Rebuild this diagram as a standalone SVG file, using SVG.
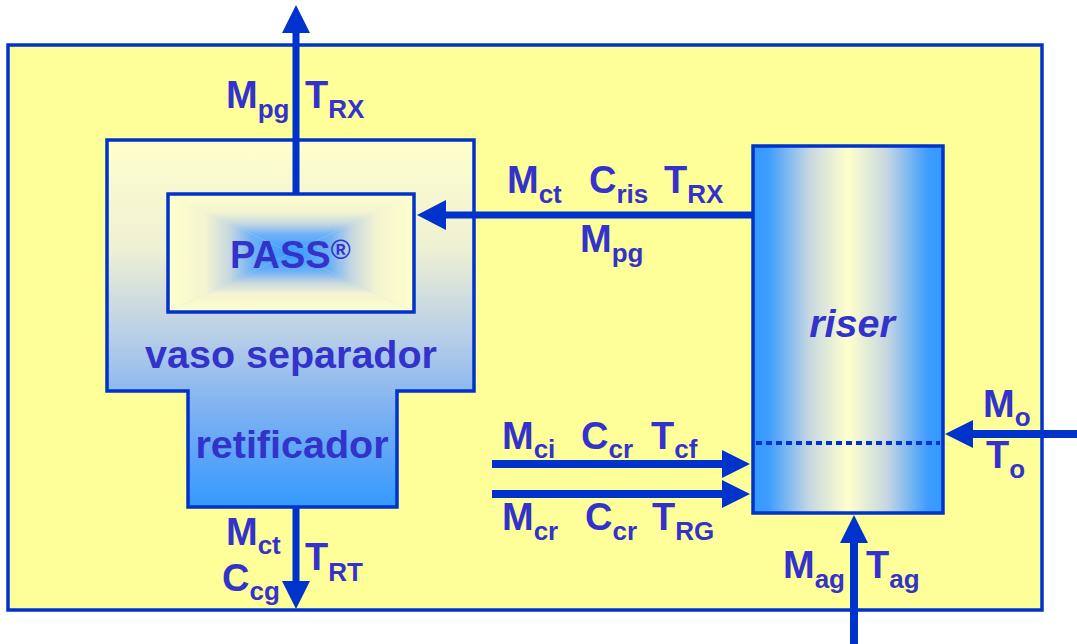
<svg xmlns="http://www.w3.org/2000/svg" width="1077" height="644" viewBox="0 0 1077 644">
<style>
.t{font-family:"Liberation Sans",Arial,sans-serif;font-weight:bold;fill:#3333cc;font-size:38px}
.s{font-size:26px}
.big{font-size:39.5px}
.box{stroke:#0033cc;stroke-width:3.5;stroke-linejoin:miter}
.c{stroke:#0033cc;stroke-width:7;fill:none}
.c2{stroke:#0033cc;stroke-width:8;fill:none}
</style>
<defs>
<linearGradient id="gSep" x1="0" y1="0" x2="0" y2="1">
<stop offset="0" stop-color="#ffffcc"/>
<stop offset="0.3" stop-color="#eef0d4"/>
<stop offset="0.55" stop-color="#b4cce8"/>
<stop offset="0.75" stop-color="#7ab0f2"/>
<stop offset="1" stop-color="#3399ff"/>
</linearGradient>
<linearGradient id="gRis" x1="0" y1="0" x2="1" y2="0">
<stop offset="0" stop-color="#3399ff"/>
<stop offset="0.08" stop-color="#3d9cff"/>
<stop offset="0.3" stop-color="#c8d8e0"/>
<stop offset="0.5" stop-color="#ffffcc"/>
<stop offset="0.7" stop-color="#c8d8e0"/>
<stop offset="0.92" stop-color="#3d9cff"/>
<stop offset="1" stop-color="#3399ff"/>
</linearGradient>
<linearGradient id="pT" gradientUnits="userSpaceOnUse" x1="0" y1="194" x2="0" y2="253">
<stop offset="0" stop-color="#ffffcc"/><stop offset="0.3" stop-color="#f4f5d0"/><stop offset="0.5" stop-color="#c8d8e0"/><stop offset="0.68" stop-color="#70b2f6"/><stop offset="1" stop-color="#3399ff"/>
</linearGradient>
<linearGradient id="pB" gradientUnits="userSpaceOnUse" x1="0" y1="312" x2="0" y2="253">
<stop offset="0" stop-color="#ffffcc"/><stop offset="0.3" stop-color="#f4f5d0"/><stop offset="0.5" stop-color="#c8d8e0"/><stop offset="0.68" stop-color="#70b2f6"/><stop offset="1" stop-color="#3399ff"/>
</linearGradient>
<linearGradient id="pL" gradientUnits="userSpaceOnUse" x1="168" y1="0" x2="291" y2="0">
<stop offset="0" stop-color="#ffffcc"/><stop offset="0.3" stop-color="#f4f5d0"/><stop offset="0.5" stop-color="#c8d8e0"/><stop offset="0.68" stop-color="#70b2f6"/><stop offset="1" stop-color="#3399ff"/>
</linearGradient>
<linearGradient id="pR" gradientUnits="userSpaceOnUse" x1="414" y1="0" x2="291" y2="0">
<stop offset="0" stop-color="#ffffcc"/><stop offset="0.3" stop-color="#f4f5d0"/><stop offset="0.5" stop-color="#c8d8e0"/><stop offset="0.68" stop-color="#70b2f6"/><stop offset="1" stop-color="#3399ff"/>
</linearGradient>
<marker id="ah" markerUnits="userSpaceOnUse" markerWidth="30" markerHeight="32" viewBox="0 -16 30 32" refX="0" refY="0" orient="auto">
<path d="M0,-14 L28,0 L0,14 Z" fill="#0033cc"/>
</marker>
<marker id="ahL" markerUnits="userSpaceOnUse" markerWidth="30" markerHeight="32" viewBox="0 -16 30 32" refX="0" refY="0" orient="auto">
<path d="M0,-15 L29,0 L0,15 Z" fill="#0033cc"/>
</marker>
</defs>
<rect x="0" y="0" width="1077" height="644" fill="#ffffff"/>
<g id="outer">
<rect x="8" y="45" width="1034" height="565" fill="#ffff99" class="box"/>
</g>
<g id="separador">
<path d="M107,140 L474,140 L474,391 L397,391 L397,507 L188,507 L188,391 L107,391 Z" fill="url(#gSep)" class="box"/>
<text class="t big" x="291" y="368" text-anchor="middle">vaso separador</text>
<text class="t big" x="292" y="458" text-anchor="middle">retificador</text>
</g>
<g id="pass">
<polygon points="168,194 414,194 291,253" fill="url(#pT)"/>
<polygon points="168,312 414,312 291,253" fill="url(#pB)"/>
<polygon points="168,194 168,312 291,253" fill="url(#pL)"/>
<polygon points="414,194 414,312 291,253" fill="url(#pR)"/>
<rect x="168" y="194" width="246" height="118" fill="none" class="box"/>
<text class="t" x="230" y="268">PASS<tspan style="font-size:27px" dy="-9">®</tspan></text>
</g>
<g id="riser">
<rect x="753" y="146" width="190" height="367" fill="url(#gRis)" class="box"/>
<line x1="756" y1="443" x2="940" y2="443" stroke="#0033cc" stroke-width="4" stroke-dasharray="6 4"/>
<text class="t big" x="852" y="337" text-anchor="middle" font-style="italic">riser</text>
</g>
<g id="connectors">
<line class="c" x1="296" y1="194" x2="296" y2="33" marker-end="url(#ah)"/>
<line class="c" x1="753" y1="215" x2="446" y2="215" marker-end="url(#ahL)"/>
<line class="c" x1="296" y1="508" x2="296" y2="581" marker-end="url(#ah)"/>
<line class="c2" x1="492" y1="464" x2="722" y2="464" marker-end="url(#ah)"/>
<line class="c2" x1="492" y1="494" x2="722" y2="494" marker-end="url(#ah)"/>
<line class="c2" x1="1077" y1="434" x2="973" y2="434" marker-end="url(#ah)"/>
<line class="c2" x1="854" y1="644" x2="854" y2="543" marker-end="url(#ah)"/>
</g>
<g id="labels">
<text class="t" x="226" y="108">M<tspan class="s" dy="10">pg</tspan></text>
<text class="t" x="305" y="108">T<tspan class="s" dy="10">RX</tspan></text>
<text class="t" x="507" y="193">M<tspan class="s" dy="10">ct</tspan></text>
<text class="t" x="589" y="193">C<tspan class="s" dy="10">ris</tspan></text>
<text class="t" x="664" y="193">T<tspan class="s" dy="10">RX</tspan></text>
<text class="t" x="580" y="252">M<tspan class="s" dy="10">pg</tspan></text>
<text class="t" x="502" y="449">M<tspan class="s" dy="9">ci</tspan></text>
<text class="t" x="581" y="449">C<tspan class="s" dy="9">cr</tspan></text>
<text class="t" x="651" y="449">T<tspan class="s" dy="9">cf</tspan></text>
<text class="t" x="502" y="530">M<tspan class="s" dy="10">cr</tspan></text>
<text class="t" x="585" y="530">C<tspan class="s" dy="10">cr</tspan></text>
<text class="t" x="652" y="530">T<tspan class="s" dy="10">RG</tspan></text>
<text class="t" x="983" y="417">M<tspan class="s" dy="9">o</tspan></text>
<text class="t" x="986" y="468">T<tspan class="s" dy="10">o</tspan></text>
<text class="t" x="783" y="578">M<tspan class="s" dy="10">ag</tspan></text>
<text class="t" x="866" y="578">T<tspan class="s" dy="10">ag</tspan></text>
<text class="t" x="226" y="545">M<tspan class="s" dy="9">ct</tspan></text>
<text class="t" x="222" y="591">C<tspan class="s" dy="9">cg</tspan></text>
<text class="t" x="305" y="570">T<tspan class="s" dy="11">RT</tspan></text>
</g>
</svg>
